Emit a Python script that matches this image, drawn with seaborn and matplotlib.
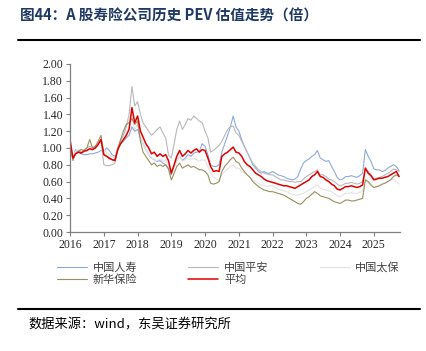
import numpy as np
import pandas as pd
import seaborn as sns
import matplotlib
matplotlib.use('Agg')
from matplotlib import pyplot as plt
import matplotlib.dates as mdates

sns.set_style('white')
plt.rcParams['font.family'] = ['Noto Sans CJK SC', 'DejaVu Sans']

# monthly PEV readings, Jan 2016 - Oct 2025
months = pd.date_range('2016-01-01', '2025-10-01', freq='MS')

life = [0.95, 0.88, 0.98, 0.95, 0.93, 0.92, 0.92, 0.93, 0.93, 0.94, 0.95, 0.97,
        0.96, 1.00, 0.97, 0.92, 0.90, 1.00, 1.05, 1.08, 1.12, 1.15, 1.25, 1.20,
        1.22, 1.12, 1.05, 0.98, 0.92, 0.88, 0.86, 0.84, 0.85, 0.82, 0.80, 0.76,
        0.68, 0.78, 0.85, 0.90, 0.85, 0.88, 0.92, 0.90, 0.94, 0.95, 0.96, 1.05,
        1.02, 0.92, 0.80, 0.78, 0.78, 0.80, 0.95, 1.05, 1.15, 1.25, 1.38, 1.25,
        1.20, 1.10, 1.02, 0.95, 0.88, 0.80, 0.76, 0.72, 0.70, 0.72, 0.70, 0.70,
        0.72, 0.70, 0.68, 0.67, 0.66, 0.64, 0.63, 0.62, 0.63, 0.66, 0.75, 0.82,
        0.85, 0.87, 0.90, 0.92, 0.97, 0.88, 0.86, 0.84, 0.85, 0.78, 0.72, 0.65,
        0.62, 0.63, 0.66, 0.66, 0.67, 0.66, 0.65, 0.67, 0.70, 0.98, 0.90, 0.84,
        0.75, 0.74, 0.74, 0.72, 0.73, 0.76, 0.78, 0.80, 0.78, 0.73]

pingan = [1.02, 0.90, 0.95, 0.97, 0.95, 0.98, 1.00, 1.02, 1.00, 1.02, 1.06, 1.10,
          0.80, 0.79, 0.79, 0.80, 0.82, 1.00, 1.08, 1.15, 1.25, 1.40, 1.73, 1.50,
          1.55, 1.40, 1.30, 1.25, 1.20, 1.15, 1.18, 1.22, 1.25, 1.18, 1.12, 0.92,
          0.88, 1.05, 1.22, 1.32, 1.22, 1.28, 1.35, 1.33, 1.38, 1.35, 1.32, 1.30,
          1.20, 1.12, 0.95, 0.97, 1.00, 1.03, 1.08, 1.15, 1.22, 1.25, 1.26, 1.18,
          1.15, 1.08, 1.02, 0.95, 0.88, 0.82, 0.78, 0.74, 0.72, 0.70, 0.69, 0.68,
          0.68, 0.66, 0.64, 0.62, 0.62, 0.61, 0.60, 0.60, 0.59, 0.60, 0.60, 0.63,
          0.66, 0.68, 0.70, 0.72, 0.74, 0.68, 0.68, 0.66, 0.63, 0.62, 0.60, 0.57,
          0.55, 0.56, 0.58, 0.58, 0.59, 0.58, 0.57, 0.58, 0.60, 0.76, 0.72, 0.68,
          0.63, 0.64, 0.65, 0.66, 0.68, 0.70, 0.72, 0.75, 0.74, 0.72]

cpic = [1.00, 0.90, 0.96, 0.98, 0.98, 0.97, 0.98, 1.00, 0.99, 1.00, 1.05, 1.10,
        0.97, 0.95, 0.92, 0.90, 0.88, 1.00, 1.05, 1.10, 1.18, 1.25, 1.35, 1.22,
        1.28, 1.15, 1.05, 0.98, 0.92, 0.88, 0.86, 0.85, 0.87, 0.84, 0.86, 0.80,
        0.70, 0.78, 0.85, 0.90, 0.84, 0.86, 0.88, 0.86, 0.88, 0.86, 0.84, 0.86,
        0.85, 0.78, 0.70, 0.66, 0.63, 0.62, 0.68, 0.72, 0.75, 0.78, 0.80, 0.76,
        0.76, 0.72, 0.70, 0.68, 0.65, 0.62, 0.60, 0.58, 0.56, 0.55, 0.54, 0.55,
        0.55, 0.53, 0.51, 0.50, 0.49, 0.48, 0.46, 0.45, 0.44, 0.44, 0.45, 0.46,
        0.48, 0.50, 0.52, 0.54, 0.56, 0.52, 0.51, 0.50, 0.49, 0.48, 0.46, 0.43,
        0.42, 0.44, 0.46, 0.46, 0.47, 0.46, 0.46, 0.47, 0.49, 0.62, 0.58, 0.55,
        0.53, 0.54, 0.55, 0.56, 0.58, 0.60, 0.62, 0.63, 0.60, 0.57]

nci = [1.08, 0.85, 0.93, 0.96, 0.98, 0.97, 1.00, 1.10, 1.00, 1.02, 1.08, 1.15,
       0.92, 0.90, 0.87, 0.86, 0.85, 1.00, 1.10, 1.20, 1.28, 1.30, 1.35, 1.28,
       1.32, 1.08, 0.95, 0.90, 0.85, 0.80, 0.82, 0.78, 0.80, 0.78, 0.80, 0.75,
       0.62, 0.70, 0.78, 0.82, 0.76, 0.78, 0.80, 0.77, 0.78, 0.76, 0.74, 0.74,
       0.72, 0.68, 0.58, 0.57, 0.58, 0.60, 0.72, 0.78, 0.82, 0.86, 0.89, 0.84,
       0.82, 0.76, 0.72, 0.68, 0.65, 0.60, 0.57, 0.54, 0.52, 0.50, 0.49, 0.48,
       0.48, 0.47, 0.46, 0.45, 0.44, 0.42, 0.40, 0.38, 0.36, 0.34, 0.33, 0.36,
       0.40, 0.42, 0.45, 0.48, 0.46, 0.43, 0.42, 0.41, 0.40, 0.38, 0.36, 0.35,
       0.34, 0.36, 0.38, 0.38, 0.37, 0.37, 0.38, 0.39, 0.40, 0.62, 0.60, 0.56,
       0.53, 0.54, 0.55, 0.57, 0.58, 0.60, 0.62, 0.66, 0.68, 0.66]

avg = [1.10, 0.88, 0.93, 0.95, 0.94, 0.96, 0.97, 0.99, 0.98, 1.00, 1.04, 1.10,
       0.92, 0.90, 0.88, 0.86, 0.85, 0.98, 1.05, 1.10, 1.15, 1.22, 1.48, 1.30,
       1.38, 1.20, 1.13, 1.05, 1.00, 0.93, 0.95, 0.90, 0.93, 0.90, 0.92, 0.85,
       0.70, 0.80, 0.90, 0.97, 0.90, 0.93, 0.97, 0.94, 0.97, 0.99, 0.95, 0.98,
       0.97, 0.88, 0.78, 0.72, 0.73, 0.72, 0.90, 0.93, 0.95, 0.98, 1.01, 0.95,
       0.94, 0.90, 0.84, 0.80, 0.78, 0.74, 0.70, 0.68, 0.66, 0.63, 0.61, 0.60,
       0.59, 0.58, 0.57, 0.56, 0.55, 0.55, 0.54, 0.53, 0.52, 0.54, 0.56, 0.58,
       0.60, 0.62, 0.66, 0.68, 0.72, 0.66, 0.65, 0.62, 0.60, 0.57, 0.55, 0.51,
       0.50, 0.52, 0.54, 0.54, 0.55, 0.54, 0.53, 0.54, 0.56, 0.76, 0.70, 0.67,
       0.62, 0.63, 0.64, 0.64, 0.65, 0.66, 0.68, 0.70, 0.72, 0.66]

names = ['中国人寿', '中国平安', '中国太保', '新华保险', '平均']
series = [life, pingan, cpic, nci, avg]
colors = ['#8EAADB', '#B8B8B8', '#E3E3E3', '#9A8F5E', '#E00000']
widths = [0.8, 0.8, 0.8, 0.8, 1.1]

fig = plt.figure(figsize=(4.27, 3.51), dpi=100)
ax = fig.add_axes([0.164, 0.339, 0.773, 0.479])

for name, vals, c, lw in zip(names, series, colors, widths):
    sns.lineplot(x=months, y=vals, color=c, lw=lw, label=name, ax=ax)

ax.set_ylim(0, 2)
ax.set_yticks(np.arange(0, 2.01, 0.2))
ax.yaxis.set_major_formatter(matplotlib.ticker.FormatStrFormatter('%.2f'))
ax.set_xlim(pd.Timestamp('2016-01-01'), pd.Timestamp('2025-10-12'))
ax.xaxis.set_major_locator(mdates.YearLocator())
ax.xaxis.set_major_formatter(mdates.DateFormatter('%Y'))
ax.set_xlabel('')
ax.set_ylabel('')
for lab in ax.get_xticklabels() + ax.get_yticklabels():
    lab.set_fontfamily('Liberation Serif')
    lab.set_fontsize(8.5)
ax.tick_params(axis='both', length=3, width=0.8, color='#808080', pad=2,
               bottom=True, left=True)
sns.despine(ax=ax)
for s in ['left', 'bottom']:
    ax.spines[s].set_color('#808080')
    ax.spines[s].set_linewidth(0.9)

# row-major legend order: matplotlib fills columns first
h, l = ax.get_legend_handles_labels()
order = [0, 3, 1, 4, 2]
ax.legend([h[i] for i in order], [l[i] for i in order],
          loc='upper center', bbox_to_anchor=(0.48, -0.12), ncol=3,
          frameon=False, fontsize=8, handlelength=2.7, columnspacing=4.6,
          handletextpad=0.5, labelspacing=0.15, labelcolor='#404040')

fig.text(0.047, 0.955, '图44：A 股寿险公司历史 PEV 估值走势（倍）', fontsize=10.5,
         fontweight='bold', color='#1F3864', va='center', ha='left')
fig.add_artist(plt.Line2D([0.042, 0.984], [0.886, 0.886], color='black', lw=1.5))
fig.add_artist(plt.Line2D([0.042, 0.984], [0.12, 0.12], color='black', lw=1.5))
fig.text(0.066, 0.074, '数据来源：wind，东吴证券研究所', fontsize=9.5,
         color='black', va='center', ha='left')

plt.savefig('out.png', dpi=100)
plt.close()
